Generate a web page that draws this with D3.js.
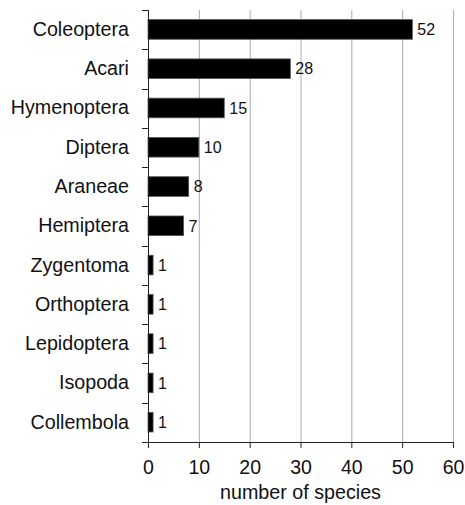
<!DOCTYPE html>
<html>
<head>
<meta charset="utf-8">
<script src="https://cdn.jsdelivr.net/npm/d3@7"></script>
<style>
body{margin:0;background:#fff;}
svg{display:block;font-family:"Liberation Sans",Arial,sans-serif;}
</style>
</head>
<body>
<svg id="chart" width="465" height="505"></svg>
<script>
const categories = ["Coleoptera","Acari","Hymenoptera","Diptera","Araneae","Hemiptera","Zygentoma","Orthoptera","Lepidoptera","Isopoda","Collembola"];
const values = [52,28,15,10,8,7,1,1,1,1,1];
const xTicks = [0,10,20,30,40,50,60];
const xTitle = "number of species";

(function(){
const svg = d3.select("#chart");
const mLeft = 148, mRight = 453, mTop = 10, mBottom = 442;

const x = d3.scaleLinear().domain([0,60]).range([mLeft,mRight]);
const y = d3.scaleBand().domain(categories).range([mTop,mBottom]).padding(0);
const bw = y.bandwidth();

// gridlines
svg.append("g").selectAll("line").data(xTicks.filter(d=>d>0)).join("line")
  .attr("x1",d=>x(d)+0.5).attr("x2",d=>x(d)+0.5)
  .attr("y1",mTop).attr("y2",mBottom)
  .attr("stroke","#ababab").attr("stroke-width",1);

// bars
svg.append("g").selectAll("rect").data(categories).join("rect")
  .attr("x",x(0))
  .attr("y",(d)=>y(d)+bw*0.245)
  .attr("width",(d,i)=>x(values[i])-x(0))
  .attr("height",bw*0.5)
  .attr("fill","#000")
  .attr("stroke","#555").attr("stroke-width",0.8);

// value labels
svg.append("g").selectAll("text").data(categories).join("text")
  .attr("x",(d,i)=>x(values[i])+5)
  .attr("y",d=>y(d)+bw*0.495)
  .attr("dy","0.36em")
  .attr("font-size",16)
  .attr("fill","#111")
  .text((d,i)=>values[i]);

// x axis
const xAxis = d3.axisBottom(x).tickValues(xTicks).tickSize(6).tickPadding(12);
const gx = svg.append("g").attr("transform",`translate(0,${mBottom})`).call(xAxis);
gx.select(".domain").attr("stroke","#222");
gx.selectAll(".tick line").attr("stroke","#222");
gx.selectAll("text").attr("font-size",19.5).attr("fill","#111").attr("font-family","'Liberation Sans',Arial,sans-serif");
svg.append("line").attr("x1",mLeft-6).attr("x2",mLeft).attr("y1",mBottom+0.5).attr("y2",mBottom+0.5).attr("stroke","#222");

// y axis labels
const yAxis = d3.axisLeft(y).tickSize(0).tickPadding(19);
const gy = svg.append("g").attr("transform",`translate(${mLeft},0)`).call(yAxis);
gy.select(".domain").remove();
gy.selectAll("text").attr("font-size",19.7).attr("fill","#111").attr("font-family","'Liberation Sans',Arial,sans-serif");

// y axis line and boundary ticks
svg.append("line").attr("x1",mLeft+0.5).attr("x2",mLeft+0.5).attr("y1",mTop).attr("y2",mBottom).attr("stroke","#222");
const bounds = categories.map(c=>y(c));
svg.append("g").selectAll("line").data(bounds).join("line")
  .attr("x1",mLeft-6).attr("x2",mLeft)
  .attr("y1",d=>Math.round(d)+0.5).attr("y2",d=>Math.round(d)+0.5)
  .attr("stroke","#222");

// x title
svg.append("text").attr("x",x(30)).attr("y",499).attr("text-anchor","middle")
  .attr("font-size",19.7).attr("fill","#111").text(xTitle);
})();
</script>
</body>
</html>
